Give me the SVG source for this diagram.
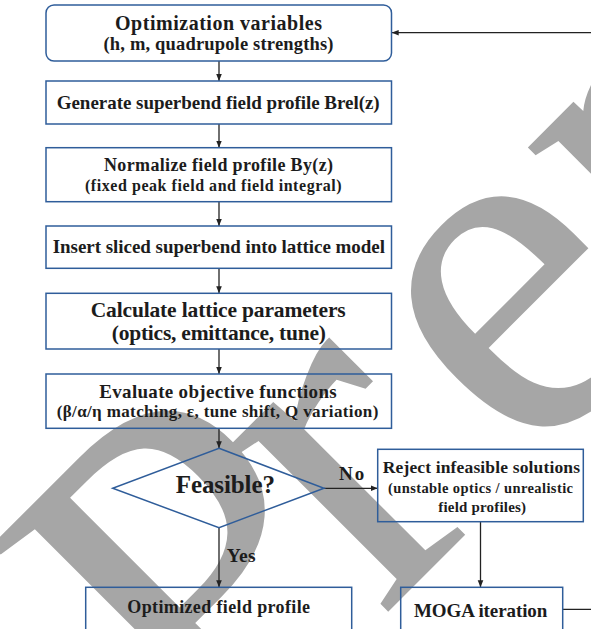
<svg xmlns="http://www.w3.org/2000/svg" width="591" height="629" viewBox="0 0 591 629">
<style>
.box{fill:none;stroke:#2F5D9A;stroke-width:1.5}
.t{font-family:"Liberation Serif","Times New Roman",serif;font-weight:bold;fill:#1c1c1c}
.c{fill:none;stroke:#222;stroke-width:1.3}
.wm{font-family:"Liberation Serif","Times New Roman",serif;font-size:500px;fill:#a6a6a6}
</style>
<defs>
<marker id="ah" viewBox="0 0 8 8" refX="8" refY="4" markerWidth="7" markerHeight="7" markerUnits="userSpaceOnUse" orient="auto">
<path d="M0,0.8 L8,4 L0,7.2 Z" fill="#222"/>
</marker>
</defs>
<rect width="591" height="629" fill="#fff"/>
<g transform="rotate(-45)">
<text class="wm" x="-406" y="707">P</text>
<text class="wm" x="-168" y="707">r</text>
<text class="wm" x="36" y="707">e</text>
<text class="wm" x="258" y="707">p</text>
</g>

<g id="connectors">
<path class="c" d="M219,61 V81" marker-end="url(#ah)"/>
<path class="c" d="M219,124 V147.7" marker-end="url(#ah)"/>
<path class="c" d="M219,201.7 V226" marker-end="url(#ah)"/>
<path class="c" d="M219,268.3 V293.3" marker-end="url(#ah)"/>
<path class="c" d="M219,349 V374" marker-end="url(#ah)"/>
<path class="c" d="M219,428.3 V448.3" marker-end="url(#ah)"/>
<path class="c" d="M219,527.7 V587.3" marker-end="url(#ah)"/>
<path class="c" d="M324,488.3 H377.7" marker-end="url(#ah)"/>
<path class="c" d="M480.5,521.7 V587.3" marker-end="url(#ah)"/>
<path class="c" d="M562.7,609.3 H600 V32.7 H391.7" marker-end="url(#ah)"/>
<text class="t" x="339" y="480" font-size="19" textLength="25.3">No</text>
<text class="t" x="226.7" y="561.7" font-size="19.5" textLength="29">Yes</text>
</g>

<g id="n1">
<rect class="box" x="46" y="5" width="345.5" height="56" rx="8"/>
<text class="t" x="115" y="30" font-size="20" textLength="207">Optimization variables</text>
<text class="t" x="103.5" y="50" font-size="18.5" textLength="230">(h, m, quadrupole strengths)</text>
</g>
<g id="n2">
<rect class="box" x="46" y="81" width="345.5" height="43"/>
<text class="t" x="56.7" y="109.3" font-size="19" textLength="323">Generate superbend field profile Brel(z)</text>
</g>
<g id="n3">
<rect class="box" x="46" y="147.7" width="345.5" height="54"/>
<text class="t" x="104" y="170.7" font-size="18" textLength="229">Normalize field profile By(z)</text>
<text class="t" x="85" y="190.7" font-size="16" textLength="256.7">(fixed peak field and field integral)</text>
</g>
<g id="n4">
<rect class="box" x="46" y="226" width="345.5" height="42.3"/>
<text class="t" x="52.7" y="253.3" font-size="19" textLength="332.3">Insert sliced superbend into lattice model</text>
</g>
<g id="n5">
<rect class="box" x="46" y="293.3" width="345.5" height="55.7"/>
<text class="t" x="90.7" y="316.7" font-size="21.5" textLength="255">Calculate lattice parameters</text>
<text class="t" x="111.7" y="340" font-size="21.5" textLength="214.3">(optics, emittance, tune)</text>
</g>
<g id="n6">
<rect class="box" x="46" y="374" width="345.5" height="54.3"/>
<text class="t" x="99.3" y="397.7" font-size="19" textLength="237.4">Evaluate objective functions</text>
<text class="t" x="56.7" y="416.7" font-size="17" textLength="321.6">(β/α/η matching, ε, tune shift, Q variation)</text>
</g>
<g id="n7">
<polygon class="box" points="219,448.3 324,488.3 219,527.7 112.7,488.3"/>
<text class="t" x="175.7" y="493.3" font-size="25" textLength="99.3">Feasible?</text>
</g>
<g id="n8">
<rect class="box" x="377.7" y="449.3" width="205.6" height="72.4"/>
<text class="t" x="382.7" y="473.3" font-size="17.5" textLength="197.3">Reject infeasible solutions</text>
<text class="t" x="388" y="493.3" font-size="14.5" textLength="185">(unstable optics / unrealistic</text>
<text class="t" x="438.3" y="511.7" font-size="15" textLength="87.7">field profiles)</text>
</g>
<g id="n9">
<rect class="box" x="85.7" y="587.3" width="266" height="60"/>
<text class="t" x="127.3" y="613.3" font-size="18" textLength="182.7">Optimized field profile</text>
</g>
<g id="n10">
<rect class="box" x="400.7" y="587.3" width="162" height="60"/>
<text class="t" x="414" y="616.7" font-size="19" textLength="133.3">MOGA iteration</text>
</g>
</svg>
